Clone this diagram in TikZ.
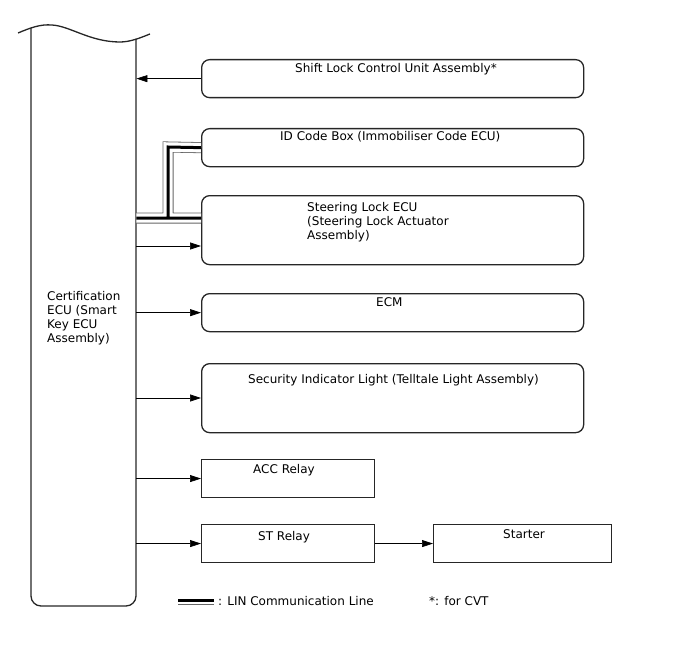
\documentclass[tikz,border=0pt]{standalone}
\usepackage{fontspec}
\setmainfont{DejaVu Sans}
\usetikzlibrary{arrows.meta}
\begin{document}
\begin{tikzpicture}[x=1pt,y=-1pt,
 box/.style={draw=black!85, line width=1.3pt, rounded corners=8pt, anchor=north west, inner sep=0pt},
 sbox/.style={draw=black!85, line width=1.1pt, anchor=north west, inner sep=0pt},
 lbl/.style={anchor=base west, inner sep=0pt, font=\fontsize{12}{14}\selectfont, align=left},
 arr/.style={draw=black, line width=0.7pt, -{Triangle[length=11pt,width=7pt]}},
 ]
\useasboundingbox (0,0) rectangle (688,658);
% ECU
\node[inner sep=0pt, minimum width=105pt, minimum height=578pt, anchor=north west] (ecu) at (31,28) {};
\draw[line width=1.3pt, black!85] (31,28) {[rounded corners=10pt] -- (31,606) -- (136,606)} -- (136,39);
\draw[line width=1.3pt, black!85] (18,33) .. controls (30,28) and (40,24) .. (52,25) .. controls (70,26) and (90,42) .. (120,42) .. controls (130,42) and (140,38) .. (150,34);
\node[lbl] (tecu) at (47,342) {Certification\\ECU (Smart\\Key ECU\\Assembly)};
% boxes
\node[box, minimum width=382pt, minimum height=38pt] (shift) at (201,59) {};
\node[box, minimum width=382pt, minimum height=38pt] (id) at (201,128) {};
\node[box, minimum width=382pt, minimum height=69pt] (steer) at (201,195) {};
\node[box, minimum width=382pt, minimum height=38pt] (ecm) at (201,293) {};
\node[box, minimum width=382pt, minimum height=69pt] (sec) at (201,363) {};
\node[sbox, minimum width=173pt, minimum height=38pt] (acc) at (201,459) {};
\node[sbox, minimum width=173pt, minimum height=38pt] (st) at (201,524) {};
\node[sbox, minimum width=178pt, minimum height=38pt] (starter) at (433,524) {};
% texts
\node[lbl] (tshift) at (295,73) {Shift Lock Control Unit Assembly*};
\node[lbl] (tid) at (280,141) {ID Code Box (Immobiliser Code ECU)};
\node[lbl] (tsteer) at (307,239) {Steering Lock ECU\\(Steering Lock Actuator\\Assembly)};
\node[lbl] (tecm) at (376,306) {ECM};
\node[lbl] (tsec) at (248,383) {Security Indicator Light (Telltale Light Assembly)};
\node[lbl] (tacc) at (253,473) {ACC Relay};
\node[lbl] (tst) at (258,540) {ST Relay};
\node[lbl] (tstarter) at (503,538) {Starter};
% arrows
\draw[arr] (shift.west) -- (shift.west -| ecu.east);
\draw[arr] (ecu.east |- 0,246) -- (steer.west |- 0,246);
\draw[arr] (ecu.east |- ecm.west) -- (ecm.west);
\draw[arr] (ecu.east |- 0,398) -- (sec.west |- 0,398);
\draw[arr] (ecu.east |- acc.west) -- (acc.west);
\draw[arr] (ecu.east |- st.west) -- (st.west);
\draw[arr] (st.east) -- (starter.west);
% LIN
\foreach \w/\c in {11/black!60, 9.4/white, 3/black}
  \draw[line width=\w pt, \c] (ecu.east |- 0,218) -- (steer.west |- 0,218) (168,218) -- (168,147) -- (id.west);
% legend
\coordinate (lg1) at (178,600.5);
\coordinate (lg2) at (214,600.5);
\foreach \w/\c in {8/black!60, 6.4/white, 3/black}
  \draw[line width=\w pt, \c] (lg1) -- (lg2);
\node[lbl] (tlin) at (218,605) {: LIN Communication Line};
\node[lbl] (tcvt) at (429,605) {*: for CVT};
\end{tikzpicture}
\end{document}
